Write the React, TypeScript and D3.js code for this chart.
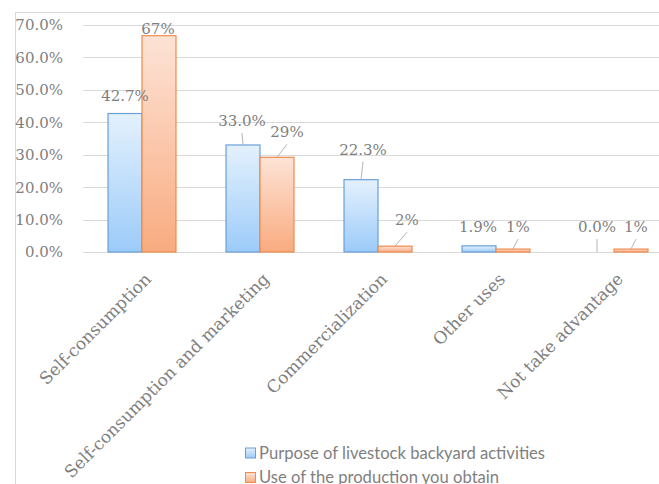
import React from "react";
import * as d3 from "d3";

const categories = [
  "Self-consumption",
  "Self-consumption and marketing",
  "Commercialization",
  "Other uses",
  "Not take advantage",
];
const seriesNames = [
  "Purpose of livestock backyard activities",
  "Use of the production you obtain",
];
const purposeValues = [0.427, 0.33, 0.223, 0.019, 0.0];
const useValues = [0.667, 0.292, 0.018, 0.009, 0.009];
const yTicks = [0, 0.1, 0.2, 0.3, 0.4, 0.5, 0.6, 0.7];

// layout: label offsets relative to bar centre / top (px), and leader flags
const purposeLabelLayout = [
  { dx: 0, dy: -13, leader: false },
  { dx: -1, dy: -19, leader: true },
  { dx: 2, dy: -25, leader: true },
  { dx: -1, dy: -14, leader: false },
  { dx: 0, dy: -20, leader: true },
];
const useLabelLayout = [
  { dx: -1, dy: -2, leader: false },
  { dx: 10, dy: -20, leader: true },
  { dx: 12, dy: -21, leader: true },
  { dx: 5, dy: -17, leader: true },
  { dx: 5, dy: -17, leader: true },
];

const W = 659;
const H = 484;
const plotLeft = 83;
const plotRight = 673;
const yTop = 25;
const yBottom = 252;

const serif = "'DejaVu Serif', Cambria, serif";
const sans = "Lato, Calibri, sans-serif";
const textGray = "#7f7f7f";

export default function App() {
  const x = d3
    .scaleBand<string>()
    .domain(categories)
    .range([plotLeft, plotRight])
    .paddingInner(0.424)
    .paddingOuter(0.212);
  const y = d3.scaleLinear().domain([0, 0.7]).range([yBottom, yTop]);
  const bw = x.bandwidth() / 2;

  const series = [
    {
      values: purposeValues,
      fmt: d3.format(".1%"),
      layout: purposeLabelLayout,
      fill: "url(#gradBlue)",
      stroke: "#6a9fd8",
      offset: 0,
    },
    {
      values: useValues,
      fmt: d3.format(".0%"),
      layout: useLabelLayout,
      fill: "url(#gradOrange)",
      stroke: "#ef8a4c",
      offset: bw,
    },
  ];

  return (
    <svg
      width={W}
      height={H}
      style={{ position: "absolute", left: 0, top: 0, background: "#fff" }}
    >
      <defs>
        <linearGradient id="gradBlue" x1="0" y1="0" x2="0" y2="1">
          <stop offset="0%" stopColor="#e4f1fd" />
          <stop offset="100%" stopColor="#9ccbf9" />
        </linearGradient>
        <linearGradient id="gradOrange" x1="0" y1="0" x2="0" y2="1">
          <stop offset="0%" stopColor="#fde3d6" />
          <stop offset="100%" stopColor="#f9ab80" />
        </linearGradient>
      </defs>
      <rect x={15.5} y={12.5} width={700} height={480} fill="none" stroke="#d9d9d9" />
      {yTicks.map((t) => (
        <g key={t}>
          <line
            x1={plotLeft}
            x2={W}
            y1={Math.round(y(t)) + 0.5}
            y2={Math.round(y(t)) + 0.5}
            stroke="#d9d9d9"
            strokeWidth={1}
          />
          <text
            x={63}
            y={y(t)}
            dy="0.36em"
            textAnchor="end"
            fontFamily={serif}
            fontSize={15}
            fill={textGray}
          >
            {d3.format(".1%")(t)}
          </text>
        </g>
      ))}
      {series.map((s, si) =>
        categories.map((c, i) => {
          const v = s.values[i];
          const x0 = (x(c) as number) + s.offset;
          const top = y(v);
          const h = yBottom - top;
          return h > 0.3 ? (
            <rect
              key={`b${si}-${i}`}
              x={x0}
              y={top}
              width={bw}
              height={h}
              fill={s.fill}
              stroke={s.stroke}
              strokeWidth={1.2}
            />
          ) : null;
        })
      )}
      {series.map((s, si) =>
        categories.map((c, i) => {
          const v = s.values[i];
          const cx = (x(c) as number) + s.offset + bw / 2;
          const top = y(v);
          const L = s.layout[i];
          const lx = cx + L.dx;
          const ly = top + L.dy;
          return (
            <g key={`l${si}-${i}`}>
              {L.leader && (
                <line
                  x1={cx}
                  y1={top}
                  x2={lx}
                  y2={ly + 7}
                  stroke="#b5b5b5"
                  strokeWidth={1}
                />
              )}
              <text
                x={lx}
                y={ly}
                textAnchor="middle"
                fontFamily={serif}
                fontSize={15}
                fill={textGray}
              >
                {s.fmt(v)}
              </text>
            </g>
          );
        })
      )}
      {categories.map((c) => {
        const cx = (x(c) as number) + x.bandwidth() / 2;
        return (
          <text
            key={c}
            transform={`translate(${cx + 6},${276}) rotate(-45)`}
            textAnchor="end"
            dy="0.35em"
            fontFamily={serif}
            fontSize={17}
            fill={textGray}
          >
            {c}
          </text>
        );
      })}
      {seriesNames.map((n, i) => (
        <g key={n} transform={`translate(245,${447.5 + i * 24.5})`}>
          <rect
            x={0.5}
            y={0.5}
            width={10}
            height={10}
            fill={i === 0 ? "url(#gradBlue)" : "url(#gradOrange)"}
            stroke={i === 0 ? "#6a9fd8" : "#ef8a4c"}
          />
          <text x={14} y={5.5} dy="0.36em" fontFamily={sans} fontSize={16.6} fill={textGray}>
            {n}
          </text>
        </g>
      ))}
    </svg>
  );
}
